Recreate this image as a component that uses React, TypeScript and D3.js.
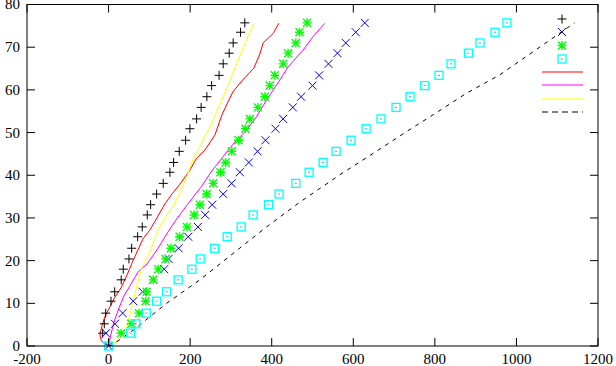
import React from "react";
import * as d3 from "d3";

// Shared depth levels (y) of the point series, bottom to top
const levels = [3.0, 5.2, 7.7, 10.5, 12.7, 15.5, 18.0, 20.4, 22.9, 25.6, 27.9, 30.7, 33.1, 35.6, 38.1, 40.7, 43.0, 45.6, 48.2, 50.9, 53.2, 55.9, 58.4, 61.0, 63.4, 66.1, 68.6, 71.0, 73.5, 75.7];

const plusX = [-14.5, -10.5, -7, 5.9, 15, 31, 36, 50, 56.6, 71.3, 82.6, 94.8, 103.1, 117.8, 134, 150.4, 159.5, 173.2, 188.9, 199.4, 215.8, 227, 241, 252.6, 271, 281, 295.7, 305.5, 323.6, 334];
const crossX = [-6.4, 15.7, 34.5, 60.5, 83.5, 108.8, 136.4, 147.2, 171.7, 195.2, 219.0, 236.9, 254.0, 281.0, 301.6, 321.9, 343.9, 365.2, 384.8, 409.3, 428.0, 451.7, 472.1, 500.0, 516.2, 539.2, 561.2, 581.6, 606.1, 628.1];
const starX = [30.4, 55.6, 74.5, 90.9, 93.3, 109.5, 121.8, 139.9, 152.9, 174.2, 192.1, 209.9, 223.9, 240.3, 256.5, 274.6, 286.9, 302.3, 318.7, 335.4, 346.4, 366.0, 383.1, 395.4, 407.6, 428.0, 440.2, 459.1, 468.1, 486.8];
const boxX = [54.1, 67.1, 92.4, 117.8, 142.3, 170.7, 204.3, 224.6, 259.9, 290.8, 325.1, 354.5, 392.2, 418.2, 459.1, 491.7, 526.0, 557.8, 594.6, 631.3, 668.0, 704.8, 739.1, 775.1, 810.1, 839.5, 882.2, 910.6, 947.3, 976.7];
const origin: [number, number] = [0, 0];

// Line series as [x, y] pairs
const redLine: [number, number][] = [[0, 0], [-11.3, 0.6], [-18.6, 1.4], [-21.1, 2.8], [-16.2, 4.7], [-8.8, 6.9], [3.4, 9.2], [15.7, 11.5], [30.4, 13.6], [44.3, 16.4], [57.3, 19.4], [72.0, 22.5], [84.3, 25.1], [101.4, 27.2], [118.6, 30.0], [138.2, 33.3], [155.3, 35.6], [174.9, 37.9], [199.4, 41.2], [215.8, 44.0], [236.2, 45.9], [260.6, 49.4], [277.8, 54.1], [294.9, 57.6], [304.7, 59.5], [326.8, 62.1], [356.2, 65.1], [370.9, 68.4], [379.0, 71.0], [403.5, 73.2], [417.4, 75.6]];
const magentaLine: [number, number][] = [[0, 0], [4.7, 2.3], [13.2, 5.6], [25.5, 8.9], [37.7, 11.7], [54.9, 14.5], [72.0, 17.3], [94.1, 19.2], [118.6, 22.5], [145.5, 26.7], [165.1, 29.5], [192.1, 33.0], [226.4, 37.2], [253.3, 41.0], [277.8, 44.0], [297.4, 46.4], [314.5, 48.3], [339.0, 50.6], [362.8, 53.7], [387.3, 57.6], [419.9, 62.3], [440.2, 65.4], [476.9, 69.3], [501.5, 72.5], [530.1, 75.6]];
const yellowLine: [number, number][] = [[0, 0], [8.3, 0.4], [23.0, 1.4], [36.0, 3.0], [45.1, 4.9], [52.4, 7.5], [61.0, 10.8], [69.6, 14.3], [81.8, 18.3], [101.4, 22.0], [121.0, 27.2], [138.2, 30.0], [160.2, 33.0], [177.4, 36.5], [192.1, 39.8], [206.8, 43.6], [223.9, 46.7], [240.3, 49.8], [256.5, 52.9], [270.5, 56.1], [290.0, 60.4], [310.9, 65.4], [324.3, 68.6], [341.5, 72.5], [356.9, 75.6]];
const dashedLine: [number, number][] = [[0, 0], [8.3, 0.2], [60.5, 3.7], [142.3, 10.0], [223.9, 15.5], [305.5, 21.7], [387.3, 27.9], [468.9, 33.7], [566.9, 40.1], [648.4, 45.1], [730.3, 50.2], [794.7, 54.1], [877.2, 59.2], [958.8, 63.5], [1040.4, 68.9], [1142.5, 75.7]];

const xTicks = [-200, 0, 200, 400, 600, 800, 1000, 1200];
const yTicks = [0, 10, 20, 30, 40, 50, 60, 70, 80];

const W = 616, H = 366;
const L = 27, R = 598, T = 4.5, B = 346;

const PLUS = "M-4.5,0H4.5M0,-4.5V4.5";
const CROSS = "M-4,-4L4,4M-4,4L4,-4";
const STAR = PLUS + CROSS;

export default function App() {
  const x = d3.scaleLinear().domain([-200, 1200]).range([L, R]);
  const y = d3.scaleLinear().domain([0, 80]).range([B, T]);
  const line = d3.line<[number, number]>().x(d => x(d[0])).y(d => y(d[1]));
  const font = "'Liberation Serif', 'DejaVu Serif', serif";

  const pts = (xs: number[]) => xs.map((v, i) => [v, levels[i]] as [number, number]);

  const marker = (d: string, color: string, p: [number, number], k: string, w = 1) => (
    <path key={k} d={d} transform={`translate(${x(p[0])},${y(p[1])})`} stroke={color} strokeWidth={w} fill="none" />
  );
  const box = (p: [number, number], k: string, cx?: number, cy?: number) => {
    const px = cx ?? x(p[0]);
    const py = cy ?? y(p[1]);
    return (
      <g key={k} transform={`translate(${px},${py})`}>
        <rect x={-4} y={-4} width={8} height={8} stroke="#00ffff" strokeWidth={1.3} fill="none" />
        <line x1={-1} x2={1} y1={0} y2={0} stroke="#00cccc" strokeWidth={1} />
      </g>
    );
  };

  return (
    <div style={{ position: "fixed", left: 0, top: 0 }}>
      <svg width={W} height={H} style={{ display: "block", background: "#fff" }}>
        <rect x={0} y={0} width={W} height={H} fill="#fff" />
        {/* lines */}
        <path d={line(redLine) || ""} stroke="#ff0000" strokeWidth={1} fill="none" />
        <path d={line(magentaLine) || ""} stroke="#ff00ff" strokeWidth={1} fill="none" />
        <path d={line(yellowLine) || ""} stroke="#ffff00" strokeWidth={1} fill="none" />
        <path d={line(dashedLine) || ""} stroke="#000" strokeWidth={1} strokeDasharray="4,5" fill="none" />
        {/* points */}
        {pts(plusX).map((p, i) => marker(PLUS, "#000", p, "p" + i))}
        {[origin, ...pts(crossX)].map((p, i) => marker(CROSS, "#0000ff", p, "c" + i))}
        {pts(starX).map((p, i) => marker(STAR, "#00ff00", p, "s" + i, 1.4))}
        {[origin, ...pts(boxX)].map((p, i) => box(p, "b" + i))}

        {/* frame */}
        <rect x={L} y={T} width={R - L} height={B - T} fill="none" stroke="#000" strokeWidth={1} />
        {xTicks.map(t => (
          <g key={"xt" + t}>
            <line x1={x(t)} x2={x(t)} y1={B} y2={B - 8} stroke="#000" />
            <line x1={x(t)} x2={x(t)} y1={T} y2={T + 8} stroke="#000" />
            <text x={x(t)} y={363.5} textAnchor="middle" fontFamily={font} fontSize={15} fill="#000">{t}</text>
          </g>
        ))}
        {yTicks.map(t => (
          <g key={"yt" + t}>
            <line x1={L} x2={L + 8} y1={y(t)} y2={y(t)} stroke="#000" />
            <line x1={R} x2={R - 8} y1={y(t)} y2={y(t)} stroke="#000" />
            <text x={20} y={y(t)} dy="0.33em" textAnchor="end" fontFamily={font} fontSize={15} fill="#000">{t}</text>
          </g>
        ))}

        {/* legend (samples only) */}
        <path d={PLUS} transform="translate(562,19)" stroke="#000" fill="none" />
        <path d={CROSS} transform="translate(562,32)" stroke="#0000ff" fill="none" />
        <path d={STAR} transform="translate(562,45.5)" stroke="#00ff00" strokeWidth={1.4} fill="none" />
        {box(origin, "legbox", 562, 59)}
        <line x1={542} x2={583} y1={72} y2={72} stroke="#ff0000" />
        <line x1={542} x2={583} y1={85} y2={85} stroke="#ff00ff" />
        <line x1={542} x2={583} y1={99} y2={99} stroke="#ffff00" />
        <line x1={542} x2={583} y1={112} y2={112} stroke="#000" strokeDasharray="6,4" />
      </svg>
    </div>
  );
}
